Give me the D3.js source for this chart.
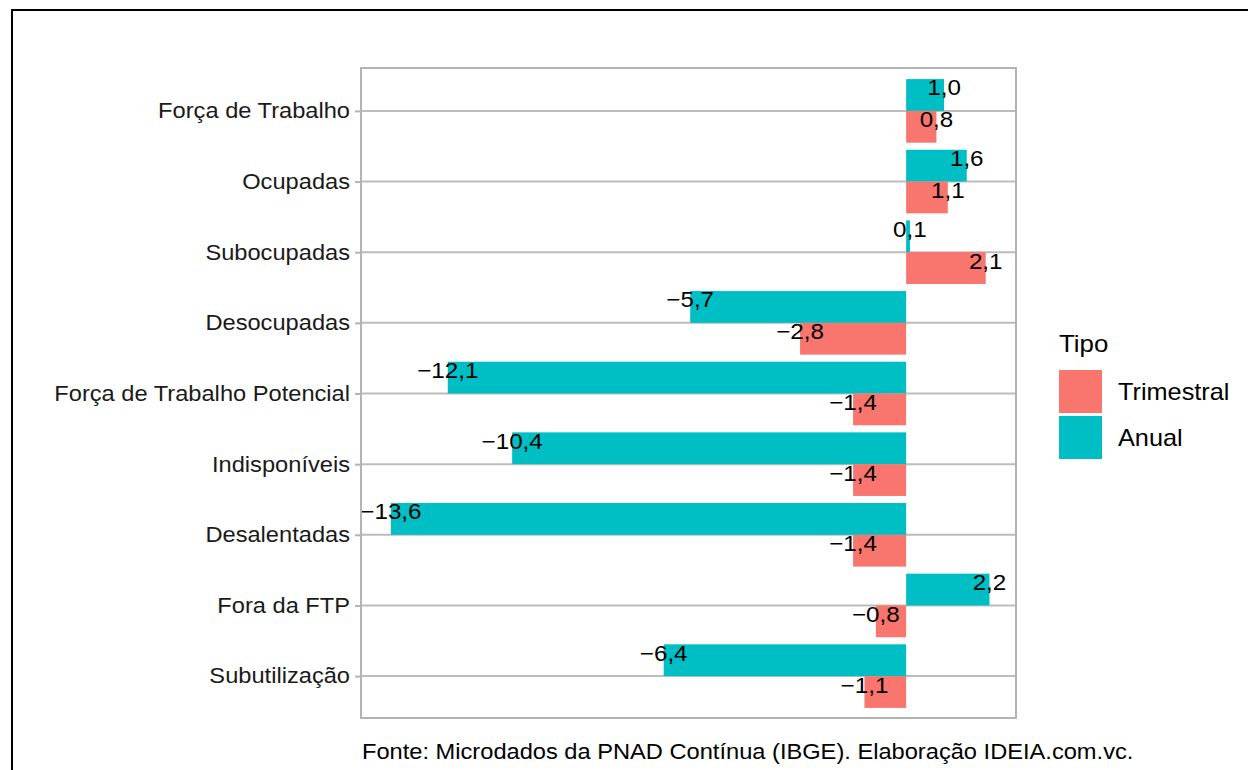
<!DOCTYPE html>
<html>
<head>
<meta charset="utf-8">
<script src="https://cdn.jsdelivr.net/npm/d3@7"></script>
<style>
  body { margin: 0; background: #fff; }
  svg { display: block; font-family: "Liberation Sans", Arial, sans-serif; }
</style>
</head>
<body>
<div id="container"></div>
<script>
// categories, top to bottom
var categorias = ["Força de Trabalho", "Ocupadas", "Subocupadas", "Desocupadas",
    "Força de Trabalho Potencial", "Indisponíveis", "Desalentadas", "Fora da FTP", "Subutilização"];
var trimestral = [0.8, 1.1, 2.1, -2.8, -1.4, -1.4, -1.4, -0.8, -1.1];
var anual = [1.0, 1.6, 0.1, -5.7, -12.1, -10.4, -13.6, 2.2, -6.4];
var tipos = ["Trimestral", "Anual"];
var xDomain = [-14.39, 2.9];
var caption = "Fonte: Microdados da PNAD Contínua (IBGE). Elaboração IDEIA.com.vc.";

var W = 1248, H = 770;
var panel = {left: 361, right: 1016, top: 68, bottom: 718};
var SX = 1.1; // text in the reference is a bit wider than the font

var color = d3.scaleOrdinal().domain(tipos).range(["#F8766D", "#00BFC4"]);

var fmt = function(v) {
    return d3.format(".1f")(v).replace(".", ",").replace("-", "\u2212");
};

// text placed at (x,y) and widened horizontally
function place(x, y) {
    return "translate(" + x + "," + y + ") scale(" + SX + ",1)";
}

var svg = d3.select("#container")
  .append("svg")
    .attr("width", W)
    .attr("height", H);

svg.append("rect")
    .attr("width", W).attr("height", H)
    .attr("fill", "#fff");

// outer black frame (only top and left visible)
svg.append("rect")
    .attr("x", 12).attr("y", 10)
    .attr("width", W + 20).attr("height", H + 20)
    .attr("fill", "none")
    .attr("stroke", "#000")
    .attr("stroke-width", 2);

var x = d3.scaleLinear().domain(xDomain).range([panel.left, panel.right]);
var y = d3.scalePoint().domain(categorias).range([panel.top, panel.bottom]).padding(0.6);
var bw = y.step() * 0.45;

// gridlines
svg.selectAll("line.grid")
  .data(categorias)
  .enter()
  .append("line")
    .attr("class", "grid")
    .attr("x1", panel.left).attr("x2", panel.right)
    .attr("y1", function(d){ return y(d) + 0.5; })
    .attr("y2", function(d){ return y(d) + 0.5; })
    .attr("stroke", "#bdbdbd")
    .attr("stroke-width", 2);

// y axis ticks and labels
var yAxis = d3.axisLeft(y).tickSize(6).tickPadding(4);
var gy = svg.append("g")
    .attr("transform", "translate(" + panel.left + ",0.5)")
    .call(yAxis);
gy.select(".domain").remove();
gy.selectAll(".tick line").attr("stroke", "#b3b3b3").attr("stroke-width", 2);
gy.selectAll(".tick text")
    .attr("transform", "scale(" + SX + ",1)")
    .attr("font-size", "21.5px")
    .attr("fill", "#1a1a1a")
    .attr("font-family", "Liberation Sans, Arial, sans-serif");

// bars
var rows = [];
categorias.forEach(function(c, i) {
    rows.push({cat: c, tipo: "Anual", v: anual[i]});
    rows.push({cat: c, tipo: "Trimestral", v: trimestral[i]});
});

function barY(d) {
    return d.tipo === "Anual" ? y(d.cat) - bw : y(d.cat);
}

svg.selectAll("rect.bar")
  .data(rows)
  .enter()
  .append("rect")
    .attr("class", "bar")
    .attr("x", function(d){ return x(Math.min(0, d.v)); })
    .attr("width", function(d){ return Math.abs(x(d.v) - x(0)); })
    .attr("y", function(d){ return barY(d) + 0.5; })
    .attr("height", bw)
    .attr("fill", function(d){ return color(d.tipo); });

// value labels
svg.selectAll("text.lbl")
  .data(rows)
  .enter()
  .append("text")
    .attr("class", "lbl")
    .attr("transform", function(d){ return place(x(d.v), barY(d) + bw / 2 + 1); })
    .attr("text-anchor", "middle")
    .attr("font-size", "22px")
    .attr("fill", "#000")
    .text(function(d){ return fmt(d.v); });

// panel border
svg.append("rect")
    .attr("x", panel.left).attr("y", panel.top)
    .attr("width", panel.right - panel.left)
    .attr("height", panel.bottom - panel.top)
    .attr("fill", "none")
    .attr("stroke", "#b3b3b3")
    .attr("stroke-width", 2);

// legend
var lg = svg.append("g").attr("transform", "translate(1059,0)");
lg.append("text")
    .attr("transform", place(0, 352))
    .attr("font-size", "23.5px")
    .attr("fill", "#000")
    .text("Tipo");
lg.selectAll("rect")
  .data(tipos)
  .enter()
  .append("rect")
    .attr("x", 0)
    .attr("y", function(d, i){ return 370 + i * 46; })
    .attr("width", 43).attr("height", 43)
    .attr("fill", function(d){ return color(d); });
lg.selectAll("text.item")
  .data(tipos)
  .enter()
  .append("text")
    .attr("class", "item")
    .attr("transform", function(d, i){ return place(59, 391.5 + i * 46); })
    .attr("dy", "0.35em")
    .attr("font-size", "23px")
    .attr("fill", "#000")
    .text(function(d){ return d; });

// caption
svg.append("text")
    .attr("transform", place(362, 759))
    .attr("font-size", "21.5px")
    .attr("fill", "#000")
    .text(caption);
</script>
</body>
</html>
